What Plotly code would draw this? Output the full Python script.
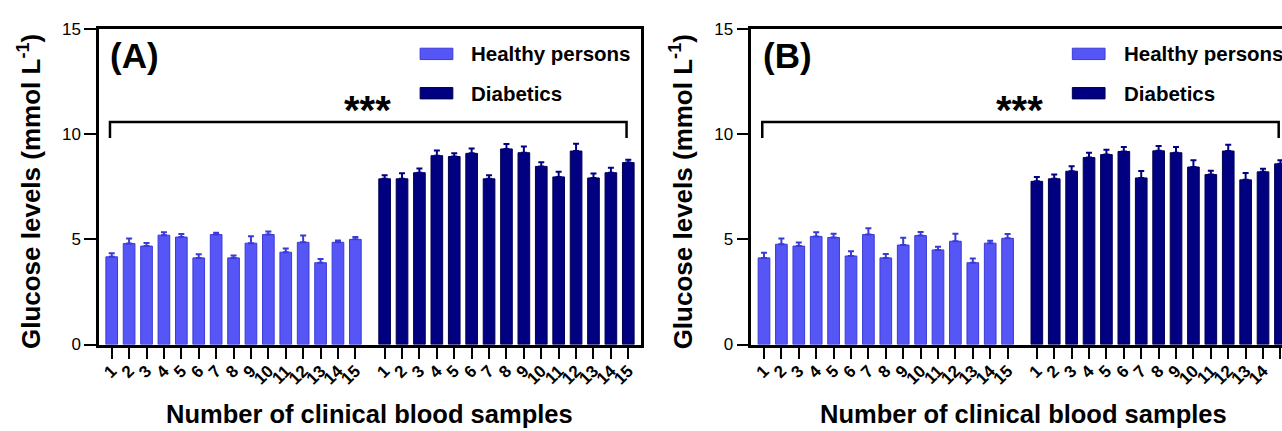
import plotly.graph_objects as go

# ---------------- data ----------------
sample_labels = [str(i) for i in range(1, 16)]

healthy_A = [4.17, 4.80, 4.68, 5.20, 5.11, 4.12, 5.23, 4.12, 4.82, 5.23, 4.39, 4.86, 3.89, 4.86, 5.00]
healthy_A_err = [0.17, 0.24, 0.15, 0.14, 0.14, 0.17, 0.09, 0.11, 0.33, 0.15, 0.17, 0.33, 0.18, 0.09, 0.11]
diabetic_A = [7.88, 7.88, 8.17, 8.98, 8.94, 9.09, 7.88, 9.30, 9.12, 8.47, 7.97, 9.20, 7.92, 8.17, 8.65]
diabetic_A_err = [0.17, 0.26, 0.20, 0.24, 0.15, 0.23, 0.17, 0.23, 0.30, 0.20, 0.24, 0.35, 0.21, 0.24, 0.14]

healthy_B = [4.12, 4.77, 4.68, 5.14, 5.09, 4.21, 5.23, 4.12, 4.73, 5.18, 4.50, 4.91, 3.89, 4.82, 5.05]
healthy_B_err = [0.24, 0.27, 0.17, 0.20, 0.18, 0.23, 0.30, 0.18, 0.35, 0.17, 0.15, 0.36, 0.20, 0.11, 0.20]
diabetic_B = [7.76, 7.88, 8.24, 8.89, 9.03, 9.18, 7.92, 9.21, 9.12, 8.44, 8.08, 9.20, 7.83, 8.21, 8.59]
diabetic_B_err = [0.20, 0.21, 0.24, 0.23, 0.23, 0.21, 0.33, 0.23, 0.27, 0.32, 0.18, 0.30, 0.33, 0.15, 0.17]

series_names = ["Healthy persons", "Diabetics"]
panel_labels = ["(A)", "(B)"]
y_ticks = [0, 5, 10, 15]
significance = "***"
x_title = "Number of clinical blood samples"
y_title = "Glucose levels (mmol L<sup>-1</sup>)"

# ---------------- style ----------------
C_HEALTHY = "#5656F6"
C_HEALTHY_LINE = "#3a3ad6"
C_DIAB = "#000080"
C_DIAB_LINE = "#000050"
FONT = "Arial, Liberation Sans, sans-serif"
GROUP_GAP = 15.68  # offset of the diabetic group on the x axis

x_healthy = [i for i in range(1, 16)]
x_diab = [i + GROUP_GAP for i in range(1, 16)]
tickvals = x_healthy + x_diab
ticktext = sample_labels + sample_labels

fig = go.Figure()

panels = [
    ("x", "y", healthy_A, healthy_A_err, diabetic_A, diabetic_A_err),
    ("x2", "y2", healthy_B, healthy_B_err, diabetic_B, diabetic_B_err),
]

for xa, ya, h, he, d, de in panels:
    fig.add_trace(go.Bar(
        x=x_healthy, y=h, width=0.67, xaxis=xa, yaxis=ya,
        name=series_names[0], showlegend=False,
        marker=dict(color=C_HEALTHY, line=dict(color=C_HEALTHY_LINE, width=1)),
        error_y=dict(type="data", array=he, arrayminus=[0] * len(he), symmetric=False,
                     color=C_HEALTHY_LINE, thickness=2, width=3),
    ))
    fig.add_trace(go.Bar(
        x=x_diab, y=d, width=0.67, xaxis=xa, yaxis=ya,
        name=series_names[1], showlegend=False,
        marker=dict(color=C_DIAB, line=dict(color=C_DIAB_LINE, width=1)),
        error_y=dict(type="data", array=de, arrayminus=[0] * len(de), symmetric=False,
                     color=C_DIAB, thickness=2, width=3),
    ))

y_dom = [80 / 431, 410 / 431]
xaxis_common = dict(
    tickvals=tickvals, ticktext=ticktext, tickangle=-45,
    ticks="outside", ticklen=12, tickwidth=2, tickcolor="black",
    ticklabelstandoff=-5,
    showline=True, linecolor="black", linewidth=2.5, mirror=True,
    showgrid=False, zeroline=False,
    tickfont=dict(family=FONT, size=17, color="black", weight="bold"),
)
yaxis_common = dict(
    range=[0, 15], tickvals=y_ticks,
    ticks="outside", ticklen=12, tickwidth=2, tickcolor="black",
    showline=True, linecolor="black", linewidth=2.5,
    showgrid=False, zeroline=False, domain=y_dom,
    tickfont=dict(family=FONT, size=17, color="black"),
)

fig.update_layout(
    width=1282, height=431,
    margin=dict(l=0, r=0, t=0, b=0),
    paper_bgcolor="white", plot_bgcolor="white",
    barmode="overlay", showlegend=False,
    xaxis=dict(domain=[99 / 1282, 641 / 1282], range=[0.27, 31.41], anchor="y", **xaxis_common),
    yaxis=dict(anchor="x", mirror=True, **yaxis_common),
    xaxis2=dict(domain=[751.3 / 1282, 1.0], range=[0.27, 30.77], anchor="y2", **xaxis_common),
    yaxis2=dict(anchor="x2", mirror=False, **yaxis_common),
)

# brackets, significance, panel labels, legends, axis titles
BR_TOP, BR_END = 10.58, 9.82
title_x = [370 / 1282, 1023 / 1282]
ytitle_x = [29 / 1282, 681.3 / 1282]
for i, (xa, ya) in enumerate([("x", "y"), ("x2", "y2")]):
    x0, x1 = x_healthy[0] - 0.1, x_diab[-1] - 0.1
    fig.add_shape(type="path", xref=xa, yref=ya,
                  path=f"M {x0},{BR_END} L {x0},{BR_TOP} L {x1},{BR_TOP} L {x1},{BR_END}",
                  line=dict(color="black", width=2.5))
    fig.add_annotation(x=15.7, y=11.16, xref=xa, yref=ya, text=significance, showarrow=False,
                       font=dict(family=FONT, size=40, color="black", weight="bold"))
    fig.add_annotation(x=0.8, y=13.72, xref=xa, yref=ya, text=panel_labels[i], showarrow=False,
                       xanchor="left", yanchor="middle",
                       font=dict(family=FONT, size=35, color="black", weight="bold"))
    for j, (col, lcol) in enumerate([(C_HEALTHY, C_HEALTHY_LINE), (C_DIAB, C_DIAB_LINE)]):
        yc = 13.82 - j * 1.87
        fig.add_shape(type="rect", xref=xa, yref=ya, x0=18.72, x1=20.6, y0=yc - 0.27, y1=yc + 0.27,
                      fillcolor=col, line=dict(color=lcol, width=1))
        fig.add_annotation(x=21.55, y=yc, xref=xa, yref=ya, text=series_names[j], showarrow=False,
                           xanchor="left", yanchor="middle",
                           font=dict(family=FONT, size=20.5, color="black", weight="bold"))
    fig.add_annotation(x=ytitle_x[i], y=(431 - 191.5) / 431, xref="paper", yref="paper",
                       text=y_title, textangle=-90, showarrow=False,
                       xanchor="center", yanchor="middle",
                       font=dict(family=FONT, size=26, color="black", weight="bold"))
    fig.add_annotation(x=title_x[i], y=(431 - 423.4) / 431, xref="paper", yref="paper",
                       text=x_title, showarrow=False,
                       xanchor="center", yanchor="middle",
                       font=dict(family=FONT, size=25.5, color="black", weight="bold"))

fig.write_html(
    "out.html",
    config={"displayModeBar": False},
    post_script=(
        "document.documentElement.style.margin='0';"
        "document.documentElement.style.overflow='hidden';"
        "document.body.style.margin='0';"
        "document.body.style.overflow='hidden';"
    ),
)
